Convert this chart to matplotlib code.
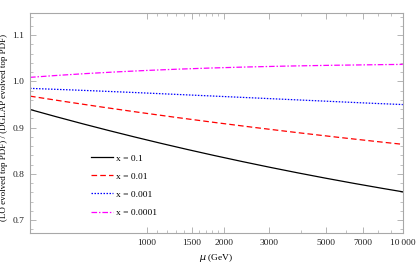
import numpy as np
import matplotlib
matplotlib.use("Agg")
import matplotlib.pyplot as plt
from matplotlib.ticker import FixedLocator, NullFormatter

# mu (GeV) sample points and ratio values
mu = [350, 600, 1000, 2000, 3300, 6000, 10000]
r_01 = [0.939, 0.905, 0.873, 0.835, 0.810, 0.783, 0.761]
r_001 = [0.968, 0.949, 0.930, 0.909, 0.894, 0.877, 0.864]
r_0001 = [0.985, 0.980, 0.975, 0.967, 0.962, 0.955, 0.950]
r_00001 = [1.009, 1.017, 1.024, 1.030, 1.033, 1.035, 1.037]
labels = ["x = 0.1", "x = 0.01", "x = 0.001", "x = 0.0001"]

xmajor = [1000, 1500, 2000, 3000, 5000, 7000, 10000]
xmajor_lab = ["1000", "1500", "2000", "3000", "5000", "7000", "10\u2009000"]
xminor = [1100, 1200, 1300, 1400, 1600, 1700, 1800, 1900, 4000, 6000, 8000, 9000]
ymajor = [0.7, 0.8, 0.9, 1.0, 1.1]

plt.rcParams['font.family'] = ['Liberation Serif', 'DejaVu Serif']
fs = 6.8
frame_col = '#a8a8a8'

fig = plt.figure(figsize=(4.17, 2.71), dpi=100)
ax = fig.add_axes([0.072, 0.140, 0.894, 0.812])

# smooth the read points in log space
lx = np.log10(mu)
xs = np.linspace(lx[0], lx[-1], 200)
def smooth(vals):
    c = np.polyfit(lx, vals, 3)
    return np.polyval(c, xs)

ax.plot(10**xs, smooth(r_01), color='black', lw=0.9, ls='-', label=labels[0])
ax.plot(10**xs, smooth(r_001), color='#ff0000', lw=0.9, ls=(0, (4.5, 2.5)), label=labels[1])
ax.plot(10**xs, smooth(r_0001), color='#0000ff', lw=0.9, ls=(0, (1.2, 1.2)), label=labels[2])
ax.plot(10**xs, smooth(r_00001), color='#ff00ff', lw=0.9, ls=(0, (4.5, 1.5, 1.2, 1.5)), label=labels[3])

ax.set_xscale('log')
ax.set_xlim(350, 10000)
ax.set_ylim(0.672, 1.148)

ax.xaxis.set_major_locator(FixedLocator(xmajor))
ax.xaxis.set_minor_locator(FixedLocator(xminor))
ax.set_xticklabels(xmajor_lab)
ax.xaxis.set_minor_formatter(NullFormatter())
ax.yaxis.set_major_locator(FixedLocator(ymajor))
ax.yaxis.set_minor_locator(FixedLocator(np.arange(0.68, 1.15, 0.02)))
ax.set_yticklabels(["0.7", "0.8", "0.9", "1.0", "1.1"])

ax.tick_params(which='both', direction='in', top=True, right=True,
               color=frame_col, labelsize=fs, labelcolor='#222222', pad=4)
ax.tick_params(which='major', length=4, width=0.6)
ax.tick_params(which='minor', length=2, width=0.5)
for s in ax.spines.values():
    s.set_color(frame_col)
    s.set_linewidth(0.8)

ax.set_xlabel(r"$\mu$ (GeV)", fontsize=fs, labelpad=4)
ax.set_ylabel("(LO evolved top PDF) / (DGLAP evolved top PDF)", fontsize=6.5)
ax.yaxis.set_label_coords(-0.058, 0.48)

ax.legend(loc='lower left', bbox_to_anchor=(0.14, 0.035), frameon=False, fontsize=fs,
          handlelength=2.4, handletextpad=0.3, labelspacing=1.0)

fig.savefig("out.png", dpi=100)
